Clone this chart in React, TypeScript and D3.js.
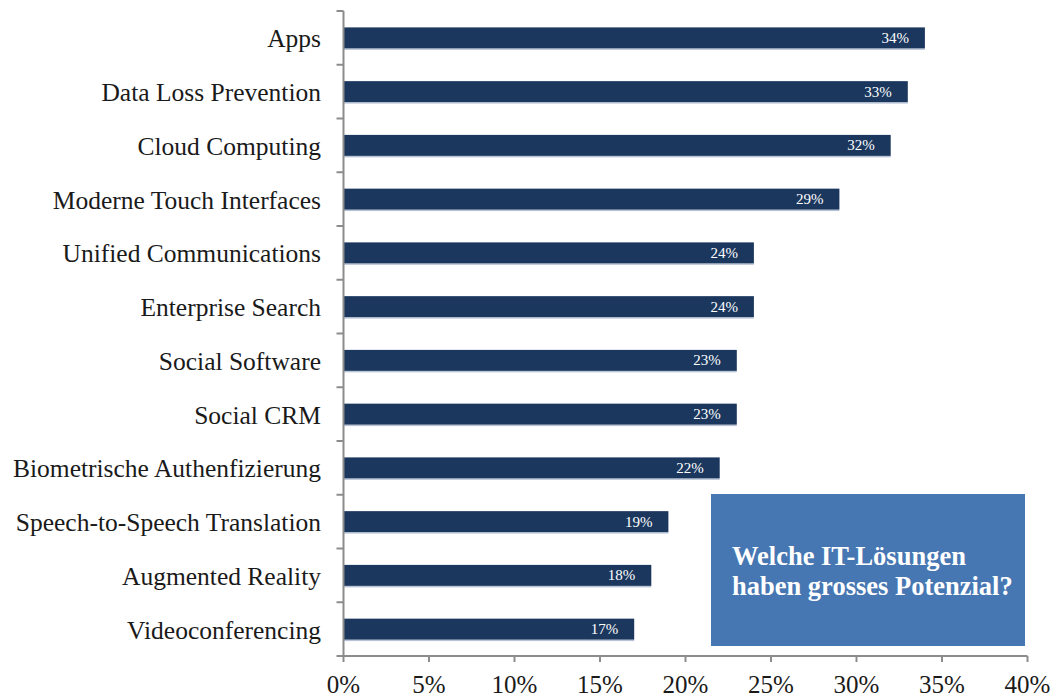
import React from "react";
import * as d3 from "d3";

const categories = [
  "Apps",
  "Data Loss Prevention",
  "Cloud Computing",
  "Moderne Touch Interfaces",
  "Unified Communications",
  "Enterprise Search",
  "Social Software",
  "Social CRM",
  "Biometrische Authenfizierung",
  "Speech-to-Speech Translation",
  "Augmented Reality",
  "Videoconferencing",
];
const values = [34, 33, 32, 29, 24, 24, 23, 23, 22, 19, 18, 17];
const xTicks = [0, 5, 10, 15, 20, 25, 30, 35, 40];
const boxLines = ["Welche IT-Lösungen", "haben grosses Potenzial?"];

const W = 1055;
const H = 697;
const FONT = "Liberation Serif, DejaVu Serif, serif";

export default function App() {
  const x = d3.scaleLinear().domain([0, 40]).range([343.5, 1027.5]);
  const y = d3.scaleBand<string>().domain(categories).range([11, 656]).paddingInner(0.61).paddingOuter(0.305);
  const step = y.step();
  const axisColor = "#8c8c8c";
  return (
    <svg width={W} height={H} style={{ position: "absolute", left: 0, top: 0, fontFamily: FONT }}>
      {categories.map((c, i) => {
        const by = y(c)!;
        const cy = by + y.bandwidth() / 2;
        return (
          <g key={c}>
            <rect x={x(0)} y={by + y.bandwidth()} width={x(values[i]) - x(0)} height={1.5} fill="#b8c4d6" />
            <rect x={x(0)} y={by} width={x(values[i]) - x(0)} height={y.bandwidth()} fill="#1b375e" />
            <text x={x(values[i]) - 16} y={cy + 5} textAnchor="end" fill="#ffffff" fontSize={15} style={{ fontFamily: FONT }}>
              {values[i]}%
            </text>
            <text x={321} y={cy + 9.5} textAnchor="end" fill="#1a1a1a" fontSize={25.5} style={{ fontFamily: FONT }}>
              {c}
            </text>
          </g>
        );
      })}
      {/* y axis */}
      <line x1={x(0)} x2={x(0)} y1={11} y2={656} stroke={axisColor} strokeWidth={2} />
      {d3.range(categories.length + 1).map((i) => (
        <line key={i} x1={x(0) - 7} x2={x(0)} y1={11 + i * step} y2={11 + i * step} stroke={axisColor} strokeWidth={2} />
      ))}
      {/* x axis */}
      <line x1={x(0)} x2={x(40)} y1={656} y2={656} stroke={axisColor} strokeWidth={2} />
      {xTicks.map((t) => (
        <g key={t}>
          <line x1={x(t)} x2={x(t)} y1={656} y2={662} stroke={axisColor} strokeWidth={2} />
          <text x={x(t)} y={693} textAnchor="middle" fontSize={25} fill="#1a1a1a" style={{ fontFamily: FONT }}>
            {t}%
          </text>
        </g>
      ))}
      {/* callout box */}
      <rect x={711} y={494} width={314} height={152} fill="#4677b3" />
      {boxLines.map((l, i) => (
        <text key={i} x={732} y={565 + i * 30} fill="#ffffff" fontSize={26.5} fontWeight="bold" style={{ fontFamily: FONT }}>
          {l}
        </text>
      ))}
    </svg>
  );
}
